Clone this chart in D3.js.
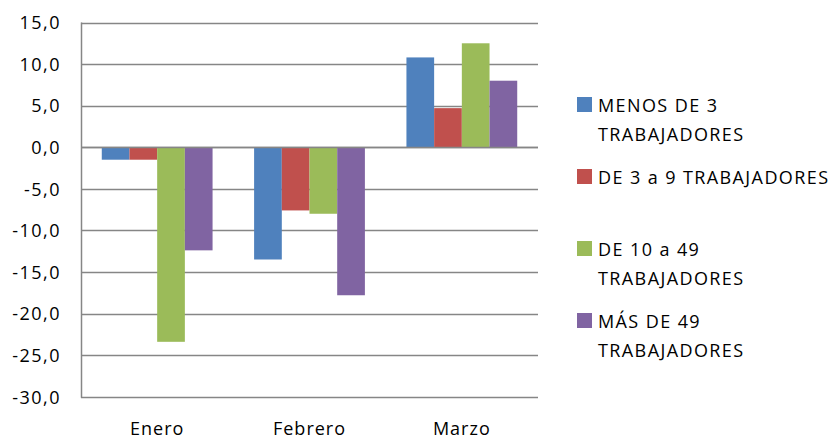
<!DOCTYPE html>
<html>
<head>
<meta charset="utf-8">
<script src="https://cdn.jsdelivr.net/npm/d3@7"></script>
<style>
  body { margin: 0; background: #fff; }
  svg text { font-family: "Open Sans", "Noto Sans", sans-serif; fill: #000; }
</style>
</head>
<body>
<div id="chart"></div>
<script>
// datos
var meses = ["Enero", "Febrero", "Marzo"];
var series = ["MENOS DE 3 TRABAJADORES", "DE 3 a 9 TRABAJADORES", "DE 10 a 49 TRABAJADORES", "MÁS DE 49 TRABAJADORES"];
var menos3 = [-1.5, -13.5, 10.8];
var de3a9 = [-1.5, -7.6, 4.7];
var de10a49 = [-23.4, -8.0, 12.5];
var mas49 = [-12.4, -17.8, 8.0];
var yTicks = [15, 10, 5, 0, -5, -10, -15, -20, -25, -30];
// lineas del texto de la leyenda
var legendLines = [["MENOS DE 3", "TRABAJADORES"], ["DE 3 a 9 TRABAJADORES"], ["DE 10 a 49", "TRABAJADORES"], ["MÁS DE 49", "TRABAJADORES"]];
var colores = ["#4F81BD", "#C0504D", "#9BBB59", "#8064A2"];

var valores = [menos3, de3a9, de10a49, mas49];

var w = 834, h = 439;
var mLeft = 81, mRight = 538, mTop = 22.5, mBottom = 396.7;

var svg = d3.select("#chart").append("svg")
    .attr("width", w)
    .attr("height", h);

var y = d3.scaleLinear().domain([-30, 15]).range([mBottom, mTop]);
var x0 = d3.scaleBand().domain(meses).range([mLeft, mRight]).padding(0);
// hueco de 150% entre grupos
var x1 = d3.scaleBand().domain(d3.range(4)).range([0, x0.bandwidth()]).paddingInner(0).paddingOuter(0.75);

// grid
svg.append("g").selectAll("line")
    .data(yTicks)
    .enter()
    .append("line")
    .attr("x1", mLeft)
    .attr("x2", mRight)
    .attr("y1", function(d) { return Math.round(y(d)) + 0.5; })
    .attr("y2", function(d) { return Math.round(y(d)) + 0.5; })
    .style("stroke", "#868686")
    .style("stroke-width", 1.3);

// eje y (etiquetas)
var yAxis = d3.axisLeft(y)
    .tickValues(yTicks)
    .tickSize(0)
    .tickPadding(20)
    .tickFormat(function(d) { return d3.format(".1f")(d).replace(".", ",").replace("−", "-"); });
var gy = svg.append("g").attr("transform", "translate(" + mLeft + ",0)").call(yAxis);
gy.select(".domain").remove();
gy.selectAll("text")
    .attr("font-family", null)
    .style("font-size", "18px")
    .style("letter-spacing", "1.5px")
    .attr("dy", "0.35em");

// barras
var grupos = svg.append("g").selectAll("g")
    .data(meses)
    .enter()
    .append("g")
    .attr("transform", function(d) { return "translate(" + x0(d) + ",0)"; });

grupos.selectAll("rect")
    .data(function(d, i) { return valores.map(function(s, k) { return {k: k, v: s[i]}; }); })
    .enter()
    .append("rect")
    .attr("x", function(d) { return x1(d.k); })
    .attr("width", x1.bandwidth())
    .attr("y", function(d) { return Math.min(y(d.v), y(0)); })
    .attr("height", function(d) { return Math.abs(y(d.v) - y(0)); })
    .attr("fill", function(d) { return colores[d.k]; });

// linea del cero y eje vertical
svg.append("line")
    .attr("x1", mLeft).attr("x2", mRight)
    .attr("y1", Math.round(y(0)) + 0.5).attr("y2", Math.round(y(0)) + 0.5)
    .style("stroke", "#868686").style("stroke-width", 1.5);
svg.append("line")
    .attr("x1", mLeft + 0.5).attr("x2", mLeft + 0.5)
    .attr("y1", mTop).attr("y2", mBottom + 1)
    .style("stroke", "#868686").style("stroke-width", 1.5);

// etiquetas de categoria
svg.append("g").selectAll("text")
    .data(meses)
    .enter()
    .append("text")
    .attr("x", function(d) { return x0(d) + x0.bandwidth() / 2; })
    .attr("y", 435)
    .attr("text-anchor", "middle")
    .style("font-size", "18px")
    .style("letter-spacing", "1px")
    .text(function(d) { return d; });

// leyenda
var legY = [112, 184, 256, 328];
var leg = svg.append("g").selectAll("g")
    .data(series)
    .enter()
    .append("g");
leg.append("rect")
    .attr("x", 577)
    .attr("y", function(d, i) { return legY[i] - 15; })
    .attr("width", 15)
    .attr("height", 15)
    .attr("fill", function(d, i) { return colores[i]; });
leg.each(function(d, i) {
    var g = d3.select(this);
    legendLines[i].forEach(function(t, j) {
        g.append("text")
            .attr("x", 598)
            .attr("y", legY[i] + j * 29)
            .style("font-size", "18px")
            .style("letter-spacing", "1.4px")
            .text(t);
    });
});
</script>
</body>
</html>
